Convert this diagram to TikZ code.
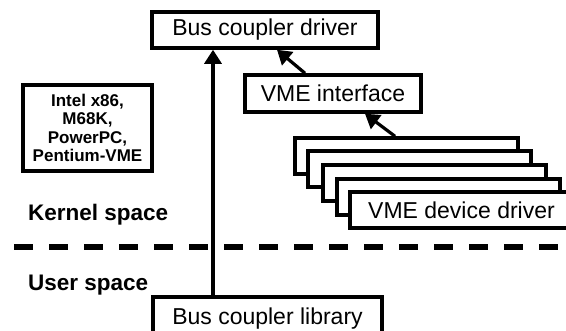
\documentclass[tikz,border=0pt]{standalone}
\usepackage{fontspec}
\setmainfont{Liberation Sans}
\usetikzlibrary{arrows.meta}
\begin{document}
\begin{tikzpicture}[x=1pt,y=-1pt,
  box/.style={draw=black, fill=white, line width=3.5pt, inner sep=0pt, align=center,
    font=\fontsize{23}{27}\selectfont},
  arr/.style={line width=3.2pt, -{Triangle[length=14pt,width=17pt]}},
  lbl/.style={inner sep=0pt, anchor=west, font=\fontsize{22.5}{26}\selectfont\bfseries}]
\useasboundingbox (0,0) rectangle (566,330);
\begin{scope}
\clip (0,0) rectangle (566,330);
\node[box, minimum width=226pt, minimum height=36pt] (driver) at (265,30) {Bus coupler driver};
\node[box, minimum width=176pt, minimum height=37pt] (vmei) at (333,93.5) {VME interface};
\node[box, minimum width=129pt, minimum height=86pt,
  font=\fontsize{17}{18.3}\selectfont\bfseries] (cpu) at (87.5,128) {Intel x86,\\M68K,\\PowerPC,\\Pentium-VME};
\node[box, minimum width=223pt, minimum height=36pt] (d1) at (406.5,156) {};
\node[box, minimum width=223pt, minimum height=36pt] (d2) at (419.5,169) {};
\node[box, minimum width=223pt, minimum height=36pt] (d3) at (434.5,183) {};
\node[box, minimum width=223pt, minimum height=36pt] (d4) at (448.5,197) {};
\node[box, minimum width=223pt, minimum height=36pt] (d5) at (461.5,210) {VME device driver};
\node[box, minimum width=229pt, minimum height=44pt] (lib) at (267.5,319) {\raisebox{5.5pt}{Bus coupler library}};
\node[lbl] (kern) at (28,215) {Kernel space};
\node[lbl] (user) at (28,285) {User space};
\coordinate (dashL) at (14,247);
\coordinate (dashR) at (575,247);
\draw[line width=6pt, dash pattern=on 19pt off 16pt] (dashL) -- (dashR);
\coordinate (vx) at (213,0);
\draw[arr] (lib.north -| vx) -- (driver.south -| vx);
\draw[arr] ([xshift=-28pt]vmei.north) -- ([xshift=12pt]driver.south);
\draw[arr] ([xshift=-11.5pt]d1.north) -- ([xshift=32pt]vmei.south);
\end{scope}
\end{tikzpicture}
\end{document}
